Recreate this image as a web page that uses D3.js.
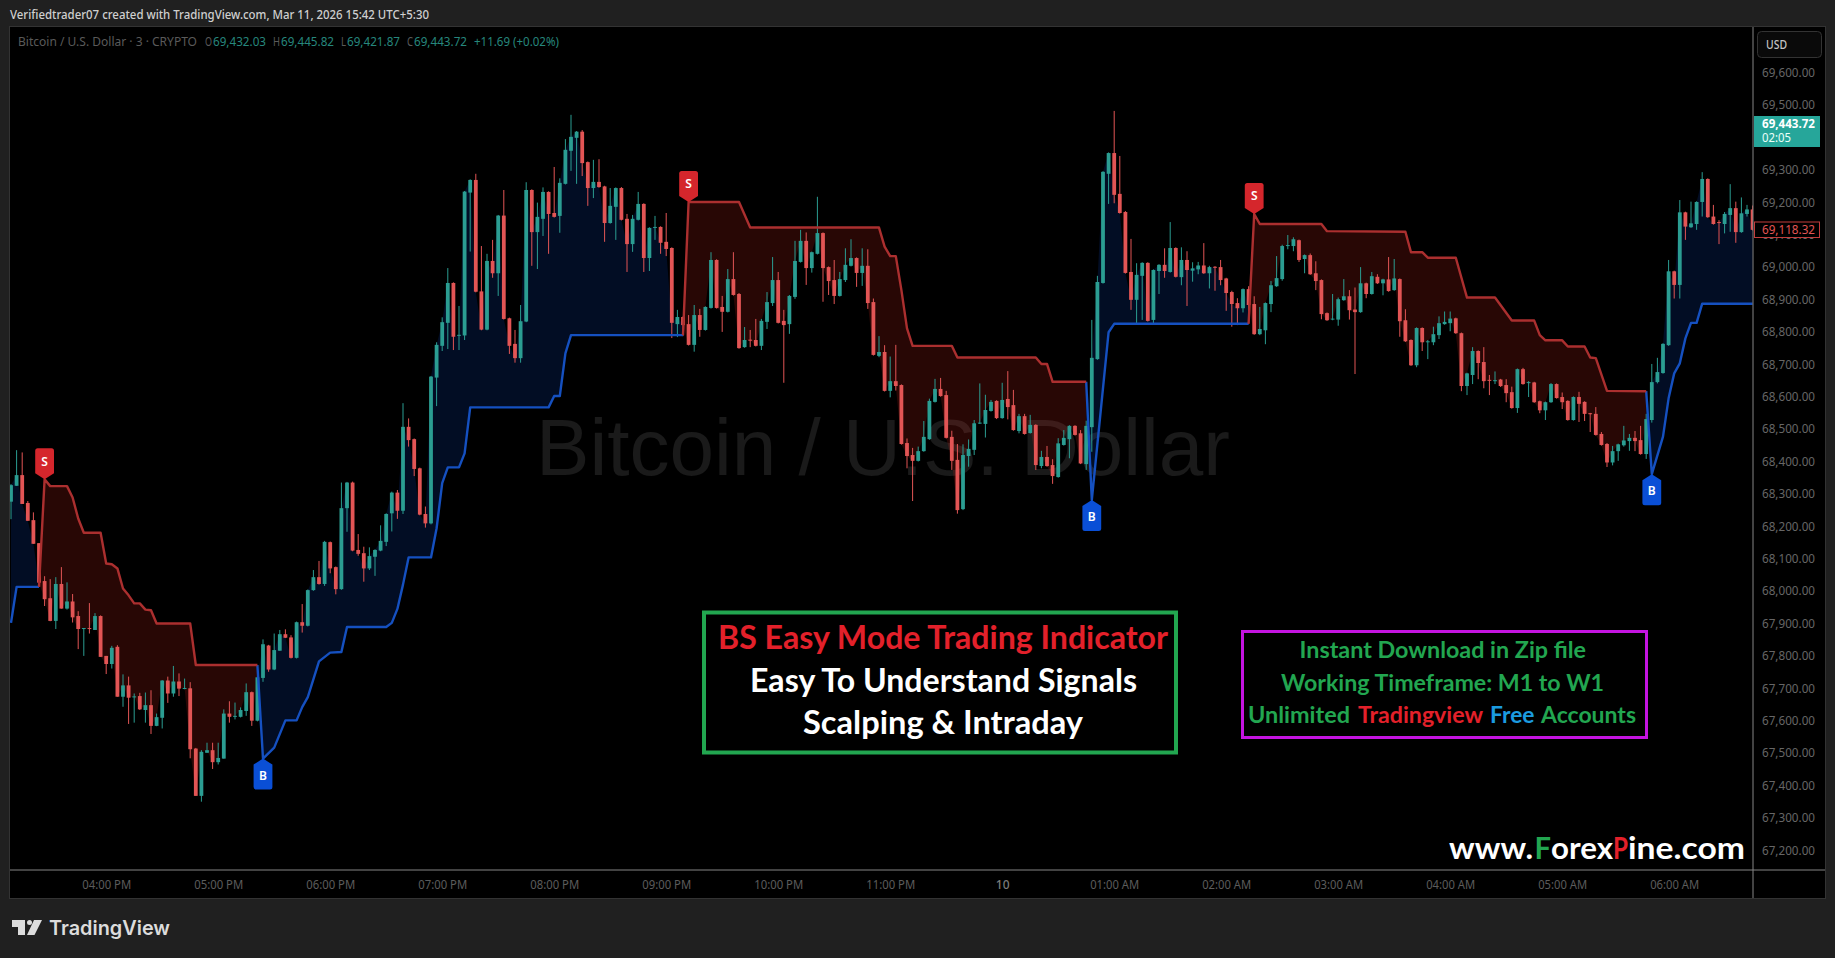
<!DOCTYPE html>
<html><head><meta charset="utf-8">
<script src="https://cdnjs.cloudflare.com/ajax/libs/d3/7.8.5/d3.min.js"></script>
<style>html,body{margin:0;padding:0;background:#202020;overflow:hidden}svg{display:block}</style>
</head><body><svg id="c" width="1835" height="958"></svg>
<script>
// ---------- chart data: 3-minute BTCUSD candles, bar index 0..311 ----------
const opens=[68276,68325,68358,68272,68219,68148,68031,67978,67908,68022,67946,67968,67923,67884,67886,67880,67923,67800,67775,67828,67674,67709,67673,67676,67633,67648,67584,67609,67724,67684,67721,67699,67700,67514,67368,67501,67509,67472,67483,67622,67613,67612,67630,67688,67600,67732,67832,67758,67816,67867,67857,67794,67904,67893,68003,68043,68022,68151,68074,68006,
68256,68335,68127,68117,68070,68106,68125,68152,68240,68304,68248,68507,68469,68379,68238,68209,68659,68757,68828,68951,68789,68789,69230,69269,68925,68807,69019,68981,69159,68842,68763,68719,68832,69238,69108,69149,69232,69167,69158,69257,
69359,69399,69418,69324,69244,69263,69249,69136,69186,69244,69149,69071,69146,69195,69028,69122,69124,69078,69059,68824,68846,68824,68760,68852,68806,68874,69022,68877,68862,68963,68917,68753,68776,68775,68757,68831,68889,68960,68834,68824,
68908,69016,69081,68997,69041,69105,69000,68960,68911,68960,69004,69028,68982,69004,68892,68726,68738,68618,68648,68636,68457,68420,68402,68432,68469,68584,68624,68605,68476,68405,68253,68417,68436,68518,68516,68556,68587,68534,68593,68574,
68494,68540,68488,68513,68386,68414,68389,68352,68451,68469,68510,68487,68392,68506,68716,68951,69288,69352,69226,69170,68985,68899,68973,69013,68837,68988,69007,68985,69059,68969,69022,68989,68993,69005,68981,69001,69000,68965,68923,68889,
68873,68932,68886,68793,68805,68886,68941,68963,69066,69065,69083,69025,69037,68981,68960,68858,68838,68838,68898,68910,68869,68861,68950,68917,68970,68950,68962,68929,68963,68836,68775,68697,68812,68768,68768,68790,68824,68827,68842,68796,
68633,68667,68741,68707,68652,68649,68653,68636,68614,68565,68685,68643,68644,68586,68558,68583,68639,68599,68587,68528,68599,68584,68549,68547,68485,68454,68397,68432,68450,68463,68473,68466,68423,68528,68645,68673,68759,68987,68945,69169,
69123,69133,69201,69272,69156,69139,69133,69161,69182,69108,69164,69178];
const highs=[68330,68435,68428,68278,68243,68148,68046,68037,68043,68074,68027,67991,67938,67886,67963,67932,67925,67800,67831,67833,67743,67736,67684,67686,67687,67694,67622,67725,67736,67769,67746,67730,67719,67516,67509,67532,67532,67532,67635,67660,67656,67641,67715,67690,67736,67851,67834,67869,67880,67882,67864,67906,67960,68005,68065,68093,68155,68153,68076,68335,
68337,68338,68176,68137,68135,68129,68203,68240,68307,68312,68580,68533,68471,68381,68261,68664,68768,68845,68997,68953,68880,69235,69271,69288,69065,69041,69084,69161,69238,68844,68806,68883,69262,69240,69199,69246,69234,69309,69274,69395,
69470,69420,69423,69326,69331,69333,69251,69244,69246,69247,69164,69161,69232,69197,69123,69158,69126,69167,69061,68868,68848,68852,68883,68871,68879,69046,69024,68911,68994,69046,68920,68815,68806,68840,68840,68923,69031,68985,68868,68914,
69081,69115,69107,69048,69217,69107,69002,69022,68985,69058,69086,69030,69058,69055,68903,68787,68759,68724,68760,68638,68471,68442,68446,68525,68594,68655,68658,68618,68495,68454,68453,68468,68528,68641,68606,68590,68589,68643,68679,68621,
68547,68547,68544,68515,68433,68448,68407,68472,68497,68512,68512,68497,68526,68837,68973,69296,69354,69482,69343,69173,69087,69012,69015,69015,68993,69009,69058,69139,69061,69061,69049,69015,69016,69074,69004,69003,69022,68967,68927,68904,
68934,68941,68910,68877,68891,68957,69034,69069,69099,69092,69085,69039,69042,69018,68962,68860,68917,68906,68963,68929,68937,69000,68952,68985,68978,68964,69031,69025,68965,68870,68777,68814,68814,68775,68816,68848,68863,68863,68844,68798,
68674,68753,68743,68753,68667,68678,68655,68654,68631,68687,68689,68648,68646,68588,68585,68642,68641,68613,68589,68601,68615,68586,68550,68568,68491,68457,68448,68455,68510,68485,68494,68510,68547,68701,68720,68765,69022,68989,69207,69171,
69202,69203,69293,69274,69192,69145,69170,69256,69202,69215,69192,69190];
const lows=[68222,68325,68269,68217,68146,68013,67954,67907,67883,67946,67943,67903,67821,67800,67869,67880,67797,67744,67761,67674,67643,67590,67594,67633,67594,67559,67583,67576,67655,67674,67676,67697,67484,67368,67350,67501,67451,67465,67483,67594,67604,67610,67615,67584,67598,67720,67751,67756,67816,67855,67792,67792,67872,67891,68001,68020,68016,68055,67990,68004,
68183,68123,68109,68029,68065,68047,68123,68139,68184,68223,68238,68446,68355,68234,68196,68206,68571,68741,68747,68744,68744,68775,69048,68922,68805,68805,68967,68911,68838,68732,68705,68705,68830,69004,68994,69096,69041,69153,69106,69255,
69297,69257,69281,69189,69213,69245,69078,69134,69084,69144,68985,69047,69144,68985,68988,69084,69041,69034,68781,68784,68787,68758,68739,68785,68804,68872,68872,68800,68860,68912,68748,68751,68753,68755,68744,68809,68880,68826,68643,68794,
68902,69014,68945,68983,69039,68893,68914,68886,68909,68954,69002,68939,68942,68871,68727,68722,68616,68598,68619,68452,68379,68278,68400,68430,68467,68582,68600,68471,68374,68239,68250,68384,68420,68516,68474,68554,68531,68532,68530,68495,
68487,68483,68486,68374,68379,68384,68331,68350,68449,68410,68480,68392,68374,68430,68714,68949,69195,69197,69165,68980,68868,68824,68837,68832,68824,68917,68967,68983,68968,68944,68880,68955,68978,68979,68934,68927,68944,68865,68816,68821,
68860,68824,68791,68790,68762,68861,68939,68958,69055,69049,69016,68981,68976,68929,68839,68834,68836,68819,68896,68838,68670,68859,68904,68915,68948,68913,68924,68927,68785,68769,68695,68691,68741,68716,68759,68778,68822,68802,68794,68617,
68605,68639,68654,68626,68605,68639,68630,68583,68563,68550,68637,68599,68581,68549,68528,68581,68594,68562,68526,68526,68522,68525,68491,68480,68449,68383,68388,68402,68446,68433,68432,68421,68408,68520,68641,68671,68757,68903,68903,69084,
69121,69115,69156,69152,69131,69071,69104,69109,69075,69106,69156,69113];
const closes=[68327,68358,68269,68217,68146,68026,67975,67908,68022,67946,67968,67919,67883,67886,67884,67923,67797,67775,67825,67674,67709,67671,67675,67635,67648,67584,67611,67724,67684,67721,67699,67701,67512,67368,67504,67509,67472,67485,67622,67612,67615,67633,67688,67600,67734,67836,67758,67818,67867,67856,67794,67904,67893,68003,68043,68022,68152,68070,68006,68256,
68335,68125,68115,68070,68108,68127,68155,68238,68304,68248,68507,68466,68377,68236,68209,68662,68760,68830,68951,68785,68791,69233,69269,68924,68807,69019,68981,69159,68840,68757,68719,68833,69238,69108,69155,69232,69164,69155,69260,69362,
69402,69418,69321,69244,69263,69247,69136,69189,69244,69146,69071,69149,69195,69028,69121,69124,69075,69056,68828,68846,68821,68760,68852,68806,68877,69022,68874,68862,68963,68914,68750,68775,68774,68757,68834,68892,68960,68828,68821,68911,
69019,69081,68997,69046,69105,68997,68957,68911,68963,69007,69028,68982,69004,68889,68729,68738,68618,68648,68633,68454,68417,68402,68432,68476,68587,68624,68602,68473,68402,68250,68420,68439,68518,68520,68559,68584,68534,68590,68568,68497,
68540,68485,68513,68389,68414,68386,68355,68456,68473,68510,68482,68394,68510,68720,68954,69294,69352,69223,69167,68982,68899,68976,69013,68834,68991,69007,68988,69059,68970,69022,68991,68996,69005,68981,69000,68999,68960,68920,68886,68873,
68932,68883,68793,68809,68889,68944,68966,69065,69068,69086,69022,69037,68978,68957,68855,68836,68841,68901,68910,68867,68861,68950,68917,68972,68950,68962,68926,68965,68833,68771,68697,68812,68768,68771,68793,68827,68831,68841,68796,68633,
68672,68741,68704,68648,68650,68651,68633,68611,68565,68685,68639,68645,68583,68558,68583,68639,68596,68583,68528,68599,68578,68547,68547,68482,68451,68397,68432,68453,68465,68473,68463,68423,68531,68645,68676,68763,68987,68945,69169,69125,
69135,69201,69272,69154,69133,69137,69164,69182,69108,69166,69178,69115];

// indicator stop line, read as vertices (bar index, price)
const buyBars=[[0,1,5],[44,45,47,49,51,52,53,55,57,59,60,67,68,69,70,71,75,76,77,78,80,81,82,96,97,98,99,100,120],[192,193,196,197,221],[292,293,295,296,297,298,299,300,301,302,311]];
const buyPrices=[[67902,68013,68013],[67772,67483,67517,67601,67601,67642,67673,67783,67810,67812,67889,67889,67902,67945,68020,68104,68104,68194,68333,68382,68382,68425,68567,68567,68602,68602,68734,68790,68790],[68646,68281,68799,68825,68825],[68617,68361,68477,68595,68672,68703,68780,68828,68828,68887,68887]];
const sellBars=[[5,6,7,10,11,12,13,16,17,18,19,20,21,22,23,24,25,26,32,33,44],[120,121,130,132,155,156,157,158,159,160,161,168,169,183,184,185,186,192],[221,222,223,234,235,249,250,252,253,258,260,265,268,272,273,274,277,278,281,282,283,285,292]];
const sellPrices=[[68013,68345,68324,68324,68289,68224,68180,68180,68085,68083,68070,68008,67987,67962,67962,67943,67941,67900,67900,67772,67772],[68790,69201,69201,69122,69122,69063,69034,69034,68929,68811,68757,68757,68721,68721,68701,68701,68646,68646],[68825,69164,69133,69133,69111,69109,69046,69046,69029,69029,68906,68906,68835,68835,68790,68774,68774,68755,68755,68721,68719,68618,68617]];
const sellSignalBars=[6,121,222], sellSignalPrices=[68345,69201,69164];
const buySignalBars=[45,193,293], buySignalPrices=[67483,68281,68361];

const priceTicks=[69600,69500,69300,69200,69100,69000,68900,68800,68700,68600,68500,68400,68300,68200,68100,68000,67900,67800,67700,67600,67500,67400,67300,67200];
const timeBars=[17,37,57,77,97,117,137,157,177,197,217,237,257,277,297];
const timeLabels=["04:00 PM","05:00 PM","06:00 PM","07:00 PM","08:00 PM","09:00 PM","10:00 PM","11:00 PM","10","01:00 AM","02:00 AM","03:00 AM","04:00 AM","05:00 AM","06:00 AM"];

const svg=d3.select("#c");
const UI='"Noto Sans",sans-serif', LATO='Lato,sans-serif';
const UP="#2b9d92", DOWN="#e25555";
const L=10,R=1753,T=27,B=870,PR=1825,PB=898;
const x=d3.scaleLinear().domain([0,311]).range([11,1752.6]);
const y=d3.scaleLinear().domain([67200,69600]).range([850.3,72.7]);

function fit(g,x0,x1,base,txt,size,color,weight,font){
  return g.append("text").attr("x",x0).attr("y",base).attr("textLength",x1-x0).attr("lengthAdjust","spacingAndGlyphs")
   .attr("font-family",font||UI).attr("font-size",size).attr("font-weight",weight||400).attr("fill",color).text(txt);
}
// frame
svg.append("rect").attr("x",L-.5).attr("y",T-.5).attr("width",PR-L+1).attr("height",PB-T+1).attr("fill","#000").attr("stroke","#333");
svg.append("defs").append("clipPath").attr("id","pane").append("rect").attr("x",L).attr("y",T).attr("width",R-L).attr("height",B-T);

// watermark
svg.append("text").attr("x",883).attr("y",475).attr("text-anchor","middle").attr("font-family","'Liberation Sans',Arial,sans-serif")
  .attr("font-size",80).attr("fill","#1a1a1a").attr("textLength",694).attr("lengthAdjust","spacingAndGlyphs").text("Bitcoin / U.S. Dollar");

const pane=svg.append("g").attr("clip-path","url(#pane)");
const closeY=i=>y(closes[i]);
function band(bars,prices,color,opacity){
  const lineAt=d3.scaleLinear().domain(bars).range(prices);
  const idx=d3.range(bars[0],bars[bars.length-1]+1);
  const a=d3.area().x(i=>x(i)).y0(i=>y(lineAt(i))).y1(i=>closeY(i));
  pane.append("path").attr("d",a(idx)).attr("fill",color).attr("fill-opacity",opacity);
}
buyBars.forEach((b,k)=>band(b,buyPrices[k],"#0a4fd6",0.17));
sellBars.forEach((b,k)=>band(b,sellPrices[k],"#e0281c",0.18));

// candles
const ci=d3.range(opens.length);
pane.append("g").selectAll("line").data(ci).join("line")
  .attr("x1",i=>x(i)).attr("x2",i=>x(i)).attr("y1",i=>y(highs[i])).attr("y2",i=>y(lows[i]))
  .attr("stroke",i=>closes[i]>=opens[i]?UP:DOWN).attr("stroke-width",1);
pane.append("g").selectAll("rect").data(ci).join("rect")
  .attr("x",i=>x(i)-1.9).attr("width",3.8)
  .attr("y",i=>y(Math.max(opens[i],closes[i])))
  .attr("height",i=>Math.max(1,Math.abs(y(opens[i])-y(closes[i]))))
  .attr("fill",i=>closes[i]>=opens[i]?UP:DOWN);

// stop lines
const ln=d3.line();
function stop(bars,prices,color){
  pane.append("path").attr("d",ln(bars.map((b,i)=>[x(b),y(prices[i])]))).attr("fill","none").attr("stroke",color).attr("stroke-width",2.4).attr("stroke-linejoin","round");
}
buyBars.forEach((b,k)=>stop(b,buyPrices[k],"#1550c0"));
sellBars.forEach((b,k)=>stop(b,sellPrices[k],"#ab2f2f"));

// signal tags
function tag(i,price,dir,label,color){
  const cx=x(i),cy=y(price),w=9.4,s=dir;
  // dir -1: tag above the tip, +1: tag below the tip
  const sh=cy+s*6,end=cy+s*31,r=2.5;
  svg.append("path").attr("d",`M${cx},${cy}L${cx+w},${sh}L${cx+w},${end-s*r}Q${cx+w},${end} ${cx+w-r},${end}L${cx-w+r},${end}Q${cx-w},${end} ${cx-w},${end-s*r}L${cx-w},${sh}Z`).attr("fill",color);
  svg.append("text").attr("x",cx).attr("y",cy+s*18+(dir>0?3:4.5)).attr("text-anchor","middle").attr("font-family",UI).attr("font-weight",600).attr("font-size",12).attr("fill","#fff").text(label);
}
sellSignalBars.forEach((b,k)=>tag(b,sellSignalPrices[k],-1,"S","#d5262c"));
buySignalBars.forEach((b,k)=>tag(b,buySignalPrices[k],1,"B","#0a4fd6"));

// axes
const yAxis=svg.append("g").attr("transform",`translate(${R},0)`).call(d3.axisRight(y).tickValues(priceTicks).tickSize(0).tickPadding(9).tickFormat(d3.format(",.2f")));
yAxis.select(".domain").remove();
yAxis.selectAll("text").attr("font-family",UI).attr("font-size",12).attr("fill","#666").attr("textLength",53).attr("lengthAdjust","spacingAndGlyphs");
const xAxis=svg.append("g").attr("transform",`translate(0,${B})`).call(d3.axisBottom(x).tickValues(timeBars).tickSize(0).tickPadding(10).tickFormat((d,i)=>timeLabels[i]));
xAxis.select(".domain").remove();
xAxis.selectAll("text").attr("font-family",UI).attr("font-size",12).attr("fill",(d,i)=>timeLabels[i]==="10"?"#7a7a7a":"#5c5c5c").attr("font-weight",(d,i)=>timeLabels[i]==="10"?500:400)
  .each(function(d,i){ if(timeLabels[i]!=="10") d3.select(this).attr("textLength",49).attr("lengthAdjust","spacingAndGlyphs"); });
svg.append("line").attr("x1",L).attr("x2",PR).attr("y1",B).attr("y2",B).attr("stroke","#858585");
svg.append("line").attr("x1",R).attr("x2",R).attr("y1",T).attr("y2",PB).attr("stroke","#858585");

// price-scale widgets
svg.append("rect").attr("x",1757.5).attr("y",31.5).attr("width",64).attr("height",26).attr("rx",4).attr("fill","#0a0a0a").attr("stroke","#333");
fit(svg,1766,1787,48.5,"USD",12,"#c4c4c4",500);
svg.append("rect").attr("x",1754).attr("y",116).attr("width",66).attr("height",31).attr("fill","#26a69a");
fit(svg,1762,1815,128,"69,443.72",12,"#fff",700);
fit(svg,1762,1791,142,"02:05",12,"#eafff9",400);
svg.append("rect").attr("x",1754.5).attr("y",222).attr("width",65).attr("height",15.5).attr("fill","#000").attr("stroke","#c23d3d");
fit(svg,1762,1815,233.5,"69,118.32",12,"#e25555",400);

// header and legend
fit(svg,10,429,19,"Verifiedtrader07 created with TradingView.com, Mar 11, 2026 15:42 UTC+5:30",12,"#cfcfcf",500);
const LG="#5a5a5a", LV="#26877d";
fit(svg,18,197,45.5,"Bitcoin / U.S. Dollar · 3 · CRYPTO",12,LG);
fit(svg,205,212,45.5,"O",12,LG);fit(svg,213,266,45.5,"69,432.03",12,LV);
fit(svg,273,280,45.5,"H",12,LG);fit(svg,281,334,45.5,"69,445.82",12,LV);
fit(svg,341,346,45.5,"L",12,LG);fit(svg,347,400,45.5,"69,421.87",12,LV);
fit(svg,407,413,45.5,"C",12,LG);fit(svg,414,467,45.5,"69,443.72",12,LV);
fit(svg,474,559,45.5,"+11.69 (+0.02%)",12,LV);

// promo boxes
svg.append("rect").attr("x",704).attr("y",612.5).attr("width",472).attr("height",140).attr("fill","#000").attr("stroke","#22a650").attr("stroke-width",4);
fit(svg,718,1168,649,"BS Easy Mode Trading Indicator",32,"#e3202a",700,LATO);
fit(svg,750,1137,692,"Easy To Understand Signals",32,"#fff",700,LATO);
fit(svg,803,1083,734,"Scalping & Intraday",32,"#fff",700,LATO);
svg.append("rect").attr("x",1242.5).attr("y",631.5).attr("width",404).attr("height",106).attr("fill","#000").attr("stroke","#c414e0").attr("stroke-width",3);
const G="#22a650";
fit(svg,1299.5,1586,658,"Instant Download in Zip file",23,G,700,LATO);
fit(svg,1281,1604,691,"Working Timeframe: M1 to W1",23,G,700,LATO);
fit(svg,1248,1350,723,"Unlimited",23,G,700,LATO);
fit(svg,1358,1483,723,"Tradingview",23,"#e3202a",700,LATO);
fit(svg,1490,1534.5,723,"Free",23,"#1b9be0",700,LATO);
fit(svg,1541,1636,723,"Accounts",23,G,700,LATO);
fit(svg,1449,1533,859,"www.",31,"#fff",700,LATO);
fit(svg,1534.5,1551,859,"F",31,G,700,LATO);
fit(svg,1551,1613,859,"orex",31,"#fff",700,LATO);
fit(svg,1613,1628,859,"P",31,"#e3202a",700,LATO);
fit(svg,1628,1745,859,"ine.com",31,"#fff",700,LATO);

// brand
const logo=svg.append("g").attr("transform","translate(12,920)").attr("fill","#dcdcdc");
logo.append("path").attr("d","M0,0H13V15H6V7H0Z");
logo.append("circle").attr("cx",17.5).attr("cy",2.5).attr("r",2.5);
logo.append("path").attr("d","M22,0H30L22.5,15H15Z");
fit(svg,49,170,934.5,"TradingView",20,"#dcdcdc",600,'Inter,sans-serif');
</script></body></html>
